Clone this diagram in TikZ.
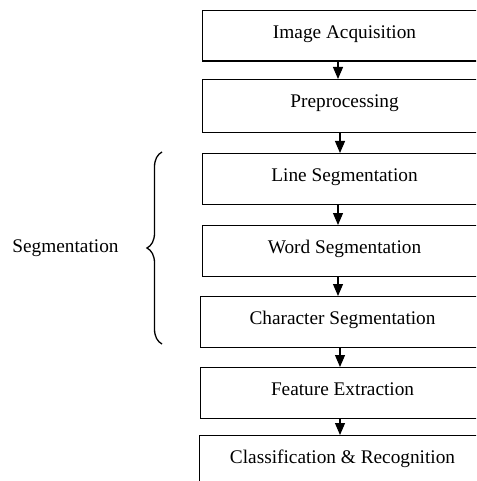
\documentclass[tikz,border=0pt]{standalone}
\usepackage{fontspec}
\setmainfont{Liberation Serif}
\usetikzlibrary{arrows.meta,decorations.pathreplacing}

\begin{document}
\begin{tikzpicture}[
            x=1pt,y=-1pt,
            stage/.style={draw,rectangle,line width=1.1pt,minimum width=360pt,inner sep=0,
                          anchor=north west,text height=27.5pt,text depth=23pt,
                          font=\fontsize{19.3}{23}\selectfont},
            lab/.style={font=\fontsize{19.3}{23}\selectfont},
            flow/.style={draw,->,line width=1.1pt,>={Triangle[length=12pt,width=10pt]}}
          ]
          \clip (0,0) rectangle (476,481);

          \node[stage] (acq) at (202,10) {\makebox[284pt]{Image Acquisition}\hspace*{76pt}};
          \node[stage,text depth=25.5pt] (pre) at (202,79) {\makebox[284pt]{Preprocessing}\hspace*{76pt}};
          \node[stage] (line) at (202,153) {\makebox[284pt]{Line Segmentation}\hspace*{76pt}};
          \node[stage] (word) at (202,225) {\makebox[284pt]{Word Segmentation}\hspace*{76pt}};
          \node[stage] (char) at (200,296) {\makebox[284pt]{Character Segmentation}\hspace*{76pt}};
          \node[stage] (feat) at (200,367) {\makebox[284pt]{Feature Extraction}\hspace*{76pt}};
          \node[stage] (cls) at (199,435) {\makebox[286pt]{Classification \& Recognition}\hspace*{74pt}};

          %arrows
          \path[flow] ([xshift=136pt]acq.south west) -- ([xshift=136pt]pre.north west);
          \path[flow] ([xshift=138pt]pre.south west) -- ([xshift=138pt]line.north west);
          \path[flow] ([xshift=136pt]line.south west) -- ([xshift=136pt]word.north west);
          \path[flow] ([xshift=136pt]word.south west) -- ([xshift=138pt]char.north west);
          \path[flow] ([xshift=140pt]char.south west) -- ([xshift=140pt]feat.north west);
          \path[flow] ([xshift=140pt]feat.south west) -- ([xshift=141pt]cls.north west);

          %brace
          \coordinate (segbot) at (162,344);
          \coordinate (segtop) at (162,152);
          \draw[line width=1.3pt,decorate,decoration={brace,amplitude=15pt}] (segbot) -- (segtop);
          \node[lab] (seg) at (65.5,248) {Segmentation};

      \end{tikzpicture}
\end{document}
